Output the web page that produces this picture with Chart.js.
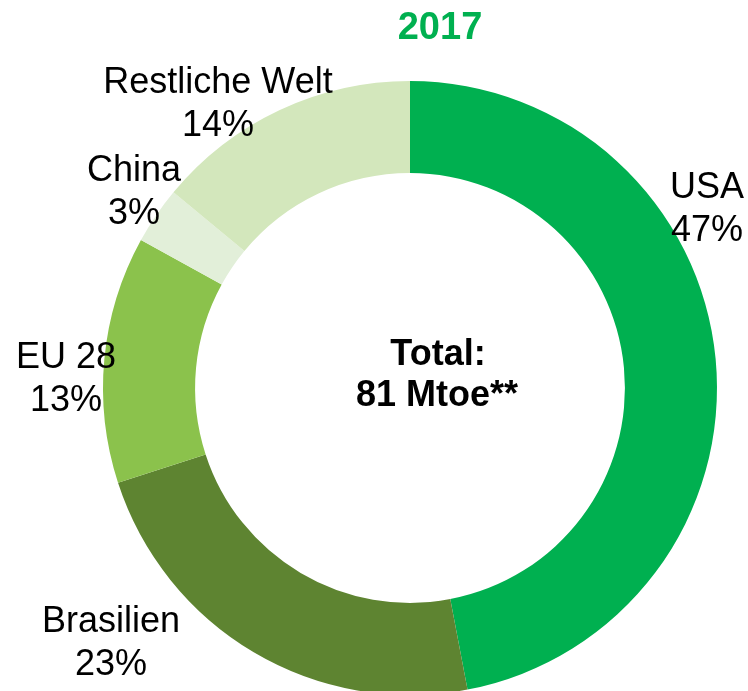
<!DOCTYPE html>
<html>
<head>
<meta charset="utf-8">
<script src="https://cdn.jsdelivr.net/npm/chart.js@4/dist/chart.umd.min.js"></script>
<style>
  html, body { margin: 0; padding: 0; background: #fff; overflow: hidden; }
  #wrap { width: 748px; height: 691px; }
</style>
</head>
<body>
<div id="wrap"><canvas id="donut" width="748" height="691"></canvas></div>
<script>
// data
var regions = ['USA', 'Brasilien', 'EU 28', 'China', 'Restliche Welt'];
var shares = [47, 23, 13, 3, 14];
var colors = ['#00b050', '#5e8431', '#8bc24c', '#e2efd9', '#d3e7bc'];
var year = '2017';
var totalLines = ['Total:', '81 Mtoe**'];

// where each label sits (x centre, first baseline)
var labelPos = [[707, 198], [111, 632], [66, 368], [134, 181], [218, 93]];

var labelPlugin = {
    id: 'labels',
    afterDraw: function(chart) {
        var ctx = chart.ctx;
        ctx.save();
        ctx.textAlign = 'center';
        ctx.textBaseline = 'alphabetic';

        // year heading
        ctx.fillStyle = '#00b050';
        ctx.font = 'bold 38px "Liberation Sans", Arial, sans-serif';
        ctx.fillText(year, 440, 39);

        // segment labels
        ctx.fillStyle = '#000';
        ctx.font = '36px "Liberation Sans", Arial, sans-serif';
        regions.forEach(function(name, i) {
            var p = labelPos[i];
            ctx.fillText(name, p[0], p[1]);
            ctx.fillText(shares[i] + '%', p[0], p[1] + 43);
        });

        // centre text
        ctx.font = 'bold 36px "Liberation Sans", Arial, sans-serif';
        ctx.fillText(totalLines[0], 438, 365);
        ctx.fillText(totalLines[1], 437, 406);
        ctx.restore();
    }
};

new Chart(document.getElementById('donut').getContext('2d'), {
    type: 'doughnut',
    data: {
        labels: regions,
        datasets: [{
            data: shares,
            backgroundColor: colors,
            borderWidth: 0,
            radius: 307,
            cutout: '70%'
        }]
    },
    options: {
        responsive: false,
        animation: false,
        layout: { padding: { left: 72, right: 0, top: 85, bottom: 0 } },
        plugins: {
            legend: { display: false },
            tooltip: { enabled: false }
        }
    },
    plugins: [labelPlugin]
});
</script>
</body>
</html>
